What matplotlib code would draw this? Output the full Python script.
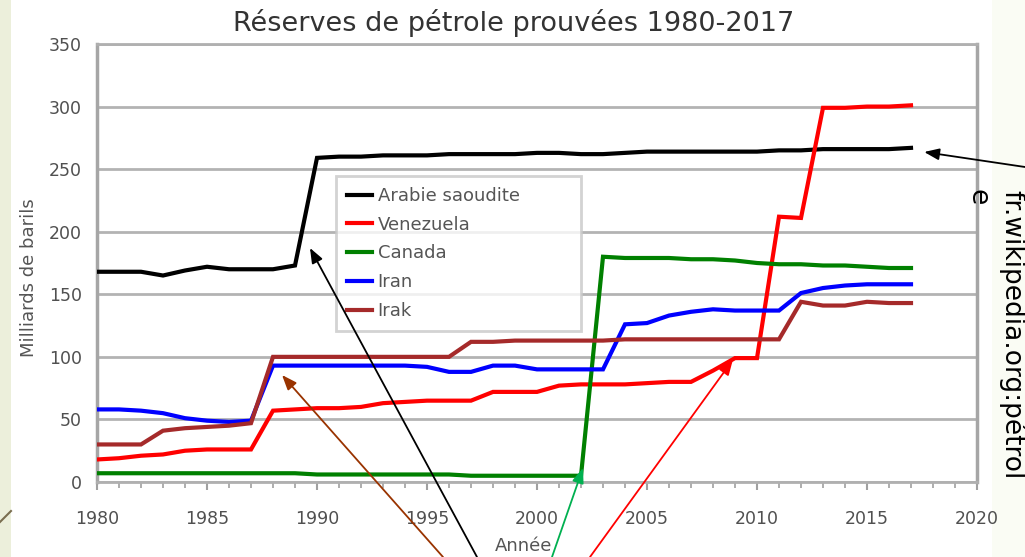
import matplotlib
matplotlib.use("Agg")
import matplotlib.pyplot as plt
from matplotlib.patches import Rectangle
from matplotlib.lines import Line2D
from matplotlib.ticker import MultipleLocator

years = list(range(1980, 2018))

arabie = [168, 168, 168, 165, 169, 172, 170, 170, 170, 173,
          259, 260, 260, 261, 261, 261, 262, 262, 262, 262,
          263, 263, 262, 262, 263, 264, 264, 264, 264, 264,
          264, 265, 265, 266, 266, 266, 266, 267]
venezuela = [18, 19, 21, 22, 25, 26, 26, 26, 57, 58,
             59, 59, 60, 63, 64, 65, 65, 65, 72, 72,
             72, 77, 78, 78, 78, 79, 80, 80, 89, 99,
             99, 212, 211, 299, 299, 300, 300, 301]
canada = [7, 7, 7, 7, 7, 7, 7, 7, 7, 7,
          6, 6, 6, 6, 6, 6, 6, 5, 5, 5,
          5, 5, 5, 180, 179, 179, 179, 178, 178, 177,
          175, 174, 174, 173, 173, 172, 171, 171]
iran = [58, 58, 57, 55, 51, 49, 48, 49, 93, 93,
        93, 93, 93, 93, 93, 92, 88, 88, 93, 93,
        90, 90, 90, 90, 126, 127, 133, 136, 138, 137,
        137, 137, 151, 155, 157, 158, 158, 158]
irak = [30, 30, 30, 41, 43, 44, 45, 47, 100, 100,
        100, 100, 100, 100, 100, 100, 100, 112, 112, 113,
        113, 113, 113, 113, 114, 114, 114, 114, 114, 114,
        114, 114, 144, 141, 141, 144, 143, 143]

series_names = ["Arabie saoudite", "Venezuela", "Canada", "Iran", "Irak"]
series_values = [arabie, venezuela, canada, iran, irak]
series_colors = ["#000000", "#ff0000", "#008000", "#0000ff", "#a52a2a"]

title = "Réserves de pétrole prouvées 1980-2017"
ylabel = "Milliards de barils"
xlabel = "Année"
source = "fr.wikipedia.org:pétrol"
source_tail = "e"

W, H = 1025, 557
fig = plt.figure(figsize=(W / 100, H / 100), dpi=100)
fig.patch.set_facecolor("#fafcf4")

# slide background pieces
fig.add_artist(Rectangle((0, 0), 11 / W, 1, transform=fig.transFigure,
                         facecolor="#ecefdb", edgecolor="none", zorder=0))
fig.add_artist(Rectangle((11 / W, 0), (992 - 11) / W, 1, transform=fig.transFigure,
                         facecolor="#ffffff", edgecolor="none", zorder=0))
fig.add_artist(Line2D([0, 11 / W], [1 - 522 / H, 1 - 511 / H], transform=fig.transFigure,
                      color="#7a6e50", lw=1.5, zorder=1))

ax = fig.add_axes([97 / W, 1 - 482 / H, (977 - 97) / W, (482 - 44) / H])
ax.set_facecolor("white")

for name, vals, col in zip(series_names, series_values, series_colors):
    ax.plot(years, vals, color=col, lw=3.0, label=name, solid_joinstyle="miter", zorder=3)

ax.set_xlim(1980, 2020)
ax.set_ylim(0, 350)
ax.xaxis.set_major_locator(MultipleLocator(5))
ax.xaxis.set_minor_locator(MultipleLocator(1))
ax.yaxis.set_major_locator(MultipleLocator(50))
ax.grid(axis="y", color="#b3b3b3", lw=2.0, zorder=1)
for side in ["left", "right"]:
    ax.spines[side].set_color("#a6a6a6")
    ax.spines[side].set_linewidth(2.5)
for side in ["top", "bottom"]:
    ax.spines[side].set_color("#b0b0b0")
    ax.spines[side].set_linewidth(2.0)
ax.tick_params(axis="x", which="major", length=6, width=1.5, color="#a0a0a0",
               labelsize=12.5, labelcolor="#505050", pad=14)
ax.tick_params(axis="x", which="minor", length=4, width=1.2, color="#a0a0a0")
ax.tick_params(axis="y", length=0, labelsize=12.5, labelcolor="#505050", pad=11)

fig.text(29 / W, 1 - 278 / H, ylabel, rotation=90, ha="center", va="center",
         fontsize=13, color="#555555")
fig.text(524 / W, 1 - 546 / H, xlabel, ha="center", va="center",
         fontsize=13, color="#555555")
fig.text(514 / W, 1 - 23 / H, title, ha="center", va="center",
         fontsize=19.5, color="#333333")

leg = ax.legend(loc="upper left",
                bbox_to_anchor=(336 / W, 1 - 328 / H, 245 / W, 152 / H),
                bbox_transform=fig.transFigure, mode="expand", frameon=True, fancybox=False,
                fontsize=13, handlelength=1.4, handletextpad=0.3,
                labelspacing=0.6, borderpad=0.6, borderaxespad=0)
leg.get_frame().set_edgecolor("#c8c8c8")
leg.get_frame().set_linewidth(2.0)
for t in leg.get_texts():
    t.set_color("#555555")
leg.set_zorder(5)

# right rotated source text
fig.text(1012 / W, 1 - 190 / H, source, rotation=-90, ha="center", va="top",
         fontsize=19, color="#000000")
fig.text(978 / W, 1 - 197 / H, source_tail, rotation=-90, ha="center", va="center",
         fontsize=19, color="#000000")

# annotation arrows (slide decorations)
arrows = [
    ((1989.68, 187), (477 / W, 0.0), "#000000"),
    ((1988.41, 85.5), (443 / W, 0.0), "#993300"),
    ((2002.09, 11.2), (552 / W, 0.0), "#00b050"),
    ((2008.9, 97.5), (590 / W, 0.0), "#ff0000"),
    ((2017.6, 263.7), (1.0, 1 - 167 / H), "#000000"),
]
for tip, tail, col in arrows:
    ax.annotate("", xy=tip, xycoords="data", xytext=tail, textcoords="figure fraction",
                arrowprops=dict(arrowstyle="-|>,head_length=0.9,head_width=0.35",
                                color=col, lw=1.3, shrinkA=0, shrinkB=0),
                annotation_clip=False, zorder=6)

fig.savefig("out.png", dpi=100)
